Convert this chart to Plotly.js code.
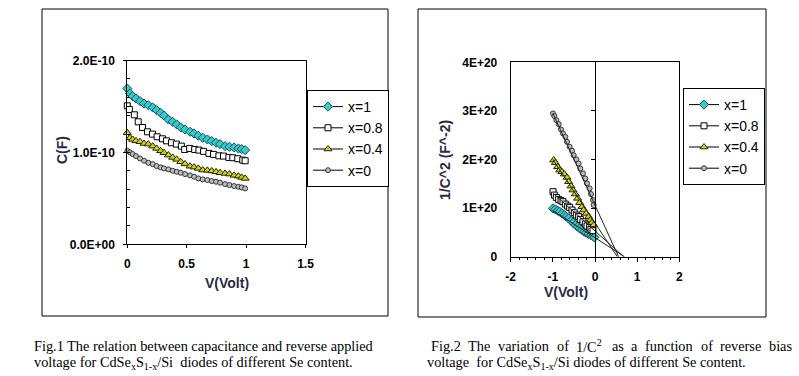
<!DOCTYPE html>
<html><head><meta charset="utf-8">
<script src="https://cdn.plot.ly/plotly-3.0.1.min.js"></script>
<style>html,body{margin:0;padding:0;background:#fff}#chart{width:799px;height:376px}</style>
</head><body><div id="chart"></div>
<script>
// ---------- Fig.1 data : C (in units of 1E-10 F) vs V (Volt) ----------
const fig1Names = ['x=1', 'x=0.8', 'x=0.4', 'x=0'];
const v1_x1 = [0,0.023,0.045,0.073,0.107,0.141,0.177,0.214,0.247,0.281,0.309,0.346,0.382,0.416,0.45,0.486,0.528,0.562,0.598,0.635,0.674,0.711,0.747,0.781,0.823,0.86,0.899,0.935,0.963,0.992];
const c_x1  = [1.695,1.641,1.612,1.587,1.558,1.532,1.514,1.489,1.460,1.431,1.402,1.358,1.333,1.304,1.271,1.250,1.224,1.206,1.181,1.159,1.141,1.123,1.105,1.090,1.068,1.061,1.054,1.043,1.036,1.025];
const v1_x08 = [0,0.017,0.059,0.092,0.128,0.170,0.212,0.251,0.296,0.33,0.372,0.413,0.455,0.483,0.525,0.567,0.603,0.642,0.687,0.726,0.771,0.81,0.855,0.888,0.93,0.972,0.992];
const c_x08  = [1.507,1.467,1.409,1.333,1.271,1.224,1.199,1.170,1.148,1.126,1.105,1.090,1.068,1.032,1.043,1.032,1.025,1.011,0.989,0.978,0.963,0.960,0.945,0.942,0.931,0.916,0.909];
const v1_x04 = [0,0.023,0.045,0.073,0.107,0.141,0.177,0.214,0.247,0.281,0.309,0.346,0.382,0.416,0.45,0.486,0.528,0.562,0.598,0.635,0.674,0.711,0.747,0.781,0.823,0.86,0.899,0.935,0.963,0.992];
const c_x04  = [1.214,1.159,1.141,1.126,1.116,1.097,1.090,1.068,1.043,1.018,0.996,0.971,0.945,0.924,0.898,0.875,0.850,0.840,0.826,0.808,0.805,0.798,0.789,0.779,0.771,0.764,0.750,0.742,0.728,0.717];
const v1_x0 = [0,0.023,0.045,0.073,0.107,0.141,0.177,0.214,0.247,0.281,0.309,0.346,0.382,0.416,0.45,0.486,0.528,0.562,0.598,0.635,0.674,0.711,0.747,0.781,0.823,0.86,0.899,0.935,0.963,0.992];
const c_x0  = [1.018,1.000,0.982,0.960,0.934,0.909,0.887,0.873,0.851,0.837,0.826,0.815,0.800,0.789,0.779,0.764,0.750,0.735,0.717,0.706,0.699,0.688,0.681,0.670,0.655,0.645,0.634,0.626,0.619,0.608];
const fig1TickVals = [0, 1, 2];
const fig1TickText = ['0.0E+00', '1.0E-10', '2.0E-10'];

// ---------- Fig.2 data : 1/C^2 (in units of 1E+20 F^-2) vs V (Volt) ----------
const v2_x1 = [-0.996,-0.941,-0.886,-0.838,-0.783,-0.727,-0.680,-0.625,-0.569,-0.522,-0.467,-0.412,-0.364,-0.309,-0.254,-0.206,-0.151,-0.095,-0.048,-0.016];
const y2_x1 = [0.994,0.974,0.946,0.926,0.891,0.857,0.823,0.789,0.741,0.700,0.652,0.617,0.583,0.549,0.514,0.494,0.467,0.446,0.425,0.398];
const v2_x08 = [-0.996,-0.964,-0.917,-0.862,-0.806,-0.759,-0.704,-0.649,-0.601,-0.546,-0.491,-0.443,-0.388,-0.348,-0.285,-0.230,-0.190,-0.127,-0.095,-0.048];
const y2_x08 = [1.337,1.268,1.220,1.179,1.152,1.131,1.083,1.042,1.015,0.960,0.905,0.857,0.823,0.768,0.720,0.672,0.631,0.604,0.563,0.535];
const v2_x04 = [-0.980,-0.941,-0.886,-0.838,-0.783,-0.727,-0.664,-0.625,-0.569,-0.522,-0.467,-0.412,-0.364,-0.309,-0.269,-0.206,-0.151,-0.111,-0.072,-0.032];
const y2_x04 = [1.988,1.933,1.851,1.782,1.748,1.700,1.631,1.542,1.453,1.371,1.289,1.200,1.111,1.028,0.960,0.891,0.823,0.754,0.700,0.652];
const v2_x0 = [-0.996,-0.964,-0.917,-0.862,-0.806,-0.759,-0.704,-0.664,-0.601,-0.546,-0.506,-0.443,-0.388,-0.348,-0.285,-0.230,-0.190,-0.127,-0.095,-0.048,-0.032];
const y2_x0 = [2.947,2.892,2.810,2.728,2.618,2.536,2.467,2.364,2.262,2.179,2.090,2.001,1.919,1.816,1.714,1.611,1.508,1.405,1.289,1.165,1.063];
// straight fitted lines drawn to the voltage intercept
const fitV_x1 = [-1.0, 0.70], fitY_x1 = [0.95, 0];
const fitV_x08 = [-1.0, 0.68], fitY_x08 = [1.31, 0];
const fitV_x04 = [-1.0, 0.53], fitY_x04 = [2.0, 0];
const fitV_x0 = [-1.0, 0.56], fitY_x0 = [2.95, 0];
const fig2TickVals = [0, 1, 2, 3, 4];
const fig2TickText = ['0', '1E+20', '2E+20', '3E+20', '4E+20'];
const fig2XTickVals = [-2, -1, 0, 1, 2];
const fig2XTickText = ['-2', '-1', '0', '1', '2'];

// ---------- captions ----------
const cap1a = 'Fig.1 The relation between capacitance and reverse applied';
const cap1b = 'voltage for CdSe<sub>x</sub>S<sub>1-x</sub>/Si\u00a0 diodes of different Se content.';
const cap2aWords = ['Fig.2', 'The', 'variation', 'of', '1/C<sup>2</sup>', 'as', 'a', 'function', 'of', 'reverse', 'bias'];
const cap2b = 'voltage\u00a0 for CdSe<sub>x</sub>S<sub>1-x</sub>/Si diodes of different Se content.';

// ---------- styling ----------
const W = 799, H = 376;
const px = v => v / W, py = v => 1 - v / H;
const SANS = 'Liberation Sans, Arial, sans-serif';
const SERIF = 'Liberation Serif, Times New Roman, serif';
const CAP_SIZE = 14.3;
const styles = [
  {symbol: 'diamond', size: 7, color: '#33CCCC', line: {color: '#1d4d55', width: 1}},
  {symbol: 'square', size: 6, color: '#ffffff', line: {color: '#000000', width: 1}},
  {symbol: 'triangle-up', size: 7, color: '#D4D400', line: {color: '#222222', width: 1}},
  {symbol: 'circle', size: 5, color: '#BDBDBD', line: {color: '#333333', width: 1}}
];

const fig1X = [v1_x1, v1_x08, v1_x04, v1_x0];
const fig1Y = [c_x1, c_x08, c_x04, c_x0];
const fig2X = [v2_x1, v2_x08, v2_x04, v2_x0];
const fig2Y = [y2_x1, y2_x08, y2_x04, y2_x0];
const fitX = [fitV_x1, fitV_x08, fitV_x04, fitV_x0];
const fitY = [fitY_x1, fitY_x08, fitY_x04, fitY_x0];

const traces = [];
for (let i = 0; i < 4; i++) {
  traces.push({x: fig1X[i], y: fig1Y[i], name: fig1Names[i], xaxis: 'x', yaxis: 'y', legend: 'legend',
    mode: 'lines+markers', cliponaxis: false, line: {color: '#000', width: 1}, marker: styles[i]});
}
for (let i = 0; i < 4; i++) {
  traces.push({x: fitX[i], y: fitY[i], xaxis: 'x2', yaxis: 'y3', mode: 'lines', showlegend: false,
    cliponaxis: false, line: {color: '#222', width: 1}, hoverinfo: 'skip'});
}
for (let i = 0; i < 4; i++) {
  traces.push({x: fig2X[i], y: fig2Y[i], name: fig1Names[i], xaxis: 'x2', yaxis: 'y2', legend: 'legend2',
    mode: 'lines+markers', cliponaxis: false, line: {color: '#000', width: 1}, marker: styles[i]});
}

const tickFont = {family: SANS, size: 12, color: '#000', weight: 'bold'};
const titleFont = {family: SANS, size: 14, color: '#2a2a44', weight: 'bold'};
const capFont = {family: SERIF, size: CAP_SIZE, color: '#000'};

// justify caption line of Fig.2 across its measured width
const ctx = document.createElement('canvas').getContext('2d');
ctx.font = CAP_SIZE + 'px "Liberation Serif"';
const plain = s => s.replace(/<[^>]+>/g, '');
const wW = cap2aWords.map(w => ctx.measureText(plain(w)).width);
const jx0 = 429, jx1 = 790;
const gap = (jx1 - jx0 - wW.reduce((a, b) => a + b, 0)) / (cap2aWords.length - 1);
const annotations = [];
let cx = jx0;
cap2aWords.forEach((w, i) => {
  annotations.push({xref: 'paper', yref: 'paper', x: px(cx), y: py(346), xanchor: 'left', yanchor: 'middle',
    text: w, showarrow: false, font: capFont});
  cx += wW[i] + gap;
});
annotations.push(
  {xref: 'paper', yref: 'paper', x: px(32), y: py(346), xanchor: 'left', yanchor: 'middle', text: cap1a, showarrow: false, font: capFont},
  {xref: 'paper', yref: 'paper', x: px(32), y: py(363), xanchor: 'left', yanchor: 'middle', text: cap1b, showarrow: false, font: capFont},
  {xref: 'paper', yref: 'paper', x: px(425), y: py(363), xanchor: 'left', yanchor: 'middle', text: cap2b, showarrow: false, font: capFont},
  {xref: 'paper', yref: 'paper', x: px(52), y: py(150), text: 'C(F)', textangle: -90, showarrow: false, font: titleFont},
  {xref: 'paper', yref: 'paper', x: px(203), y: py(293), text: 'V(Volt)', showarrow: false, font: titleFont},
  {xref: 'paper', yref: 'paper', x: px(445), y: py(160), text: '1/C^2 (F^-2)', textangle: -90, showarrow: false, font: titleFont},
  {xref: 'paper', yref: 'paper', x: px(590), y: py(302), text: 'V(Volt)', showarrow: false, font: titleFont}
);

const legendBase = {bgcolor: '#fff', bordercolor: '#000', borderwidth: 1, font: {family: SANS, size: 14, color: '#000'},
  xanchor: 'left', yanchor: 'top', itemwidth: 30, tracegroupgap: 0};

const layout = {
  width: W, height: H, margin: {l: 0, r: 0, t: 0, b: 0},
  paper_bgcolor: '#fff', plot_bgcolor: '#fff', font: {family: SANS},
  showlegend: true,
  legend: Object.assign({}, legendBase, {x: px(307), y: py(90)}),
  legend2: Object.assign({}, legendBase, {x: px(683), y: py(88)}),
  xaxis: {domain: [px(127.3), px(305.5)], range: [0, 1.5], dtick: 0.5, tick0: 0, showgrid: false, zeroline: false,
    showline: true, linecolor: '#000', linewidth: 1, mirror: true, ticks: 'outside', ticklen: 3, tickcolor: '#000',
    tickfont: tickFont, ticklabelstandoff: 5, anchor: 'y'},
  yaxis: {domain: [py(244.3), py(60.5)], range: [0, 2], tickvals: fig1TickVals, ticktext: fig1TickText, showgrid: false,
    zeroline: false, showline: true, linecolor: '#000', linewidth: 1, mirror: true, ticks: 'outside', ticklen: 3,
    tickcolor: '#000', tickfont: tickFont, ticklabelstandoff: 6, anchor: 'x',
    minor: {dtick: 0.2, tick0: 0, ticks: 'inside', ticklen: 3, tickcolor: '#000', showgrid: false}},
  xaxis2: {domain: [px(510.7), px(679.3)], range: [-2, 2], tickvals: fig2XTickVals, ticktext: fig2XTickText,
    showgrid: false, zeroline: false,
    showline: true, linecolor: '#000', linewidth: 1, mirror: true, ticks: 'outside', ticklen: 4, tickcolor: '#000',
    tickfont: tickFont, ticklabelstandoff: 5, anchor: 'y2',
    minor: {dtick: 0.2, tick0: 0, ticks: 'outside', ticklen: 2, tickcolor: '#000', showgrid: false}},
  yaxis2: {domain: [py(256.7), py(62.3)], range: [0, 4], tickvals: fig2TickVals, ticktext: fig2TickText, showgrid: false,
    zeroline: false, showline: true, linecolor: '#000', linewidth: 1, mirror: true, ticks: '', tickfont: tickFont,
    ticklabelstandoff: 10, anchor: 'x2'},
  yaxis3: {overlaying: 'y2', anchor: 'free', position: px(594.7), side: 'left', range: [0, 4], tickvals: [1, 2, 3],
    showticklabels: false, showgrid: false, zeroline: false, showline: true, linecolor: '#000', linewidth: 1,
    ticks: 'outside', ticklen: 4, tickcolor: '#000'},
  annotations: annotations,
  shapes: [
    {type: 'rect', xref: 'paper', yref: 'paper', x0: px(42), x1: px(388), y0: py(316), y1: py(9), line: {color: '#000', width: 1}},
    {type: 'rect', xref: 'paper', yref: 'paper', x0: px(418), x1: px(766), y0: py(317), y1: py(9), line: {color: '#000', width: 1}}
  ]
};

Plotly.newPlot('chart', traces, layout, {staticPlot: true, displayModeBar: false});
</script>
</body></html>
